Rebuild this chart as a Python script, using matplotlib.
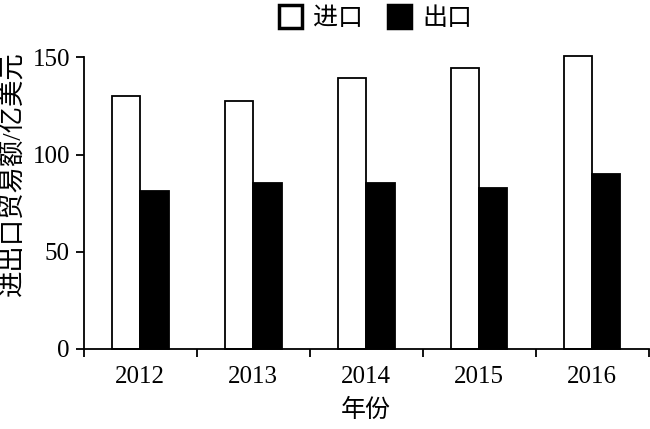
import numpy as np
import matplotlib
matplotlib.use("Agg")
import matplotlib.pyplot as plt
from matplotlib.patches import Patch

plt.rcParams['font.family'] = ['Liberation Serif', 'Noto Sans CJK SC']

years = ['2012', '2013', '2014', '2015', '2016']
imports = [130, 127.7, 139.5, 144.3, 150.8]
exports = [81.2, 85.2, 85.2, 82.8, 90.1]

fig = plt.figure(figsize=(6.5, 4.29), dpi=100)
ax = fig.add_axes([0.129, 0.1865, 0.869, 0.68])

x = np.arange(len(years))
w = 0.25
ax.bar(x - w / 2, imports, w, color='white', edgecolor='black', linewidth=1.3, clip_on=False)
ax.bar(x + w / 2, exports, w, color='black', edgecolor='black', linewidth=1.3, clip_on=False)

ax.set_xlim(-0.5, len(years) - 0.5)
ax.set_ylim(0, 150)
ax.set_yticks([0, 50, 100, 150])

# ticks on category boundaries, labels in the middle
ax.set_xticks(np.arange(len(years) + 1) - 0.5)
ax.set_xticklabels([])
ax.set_xticks(x, minor=True)
ax.set_xticklabels(years, minor=True)
ax.tick_params(axis='x', which='minor', length=0, pad=12, labelsize=18)
ax.tick_params(axis='x', which='major', direction='out', length=6, width=1.3)
ax.tick_params(axis='y', direction='out', length=6, width=1.3, labelsize=18, pad=4)

for s in ['top', 'right']:
    ax.spines[s].set_visible(False)
for s in ['left', 'bottom']:
    ax.spines[s].set_linewidth(1.3)

ax.set_ylabel('进出口贸易额/亿美元', fontsize=19)
ax.yaxis.set_label_coords(-0.104, 0.6)
ax.set_xlabel('年份', fontsize=18, labelpad=8)

handles = [Patch(facecolor='white', edgecolor='black', linewidth=2.5, label='进口'),
           Patch(facecolor='black', edgecolor='black', linewidth=2.5, label='出口')]
fig.legend(handles=handles, loc='upper center', bbox_to_anchor=(0.578, 1.04), ncol=2,
           frameon=False, fontsize=18, handlelength=0.9, handleheight=1.0,
           handletextpad=0.45, columnspacing=1.0)

fig.savefig('out.png', dpi=100)
